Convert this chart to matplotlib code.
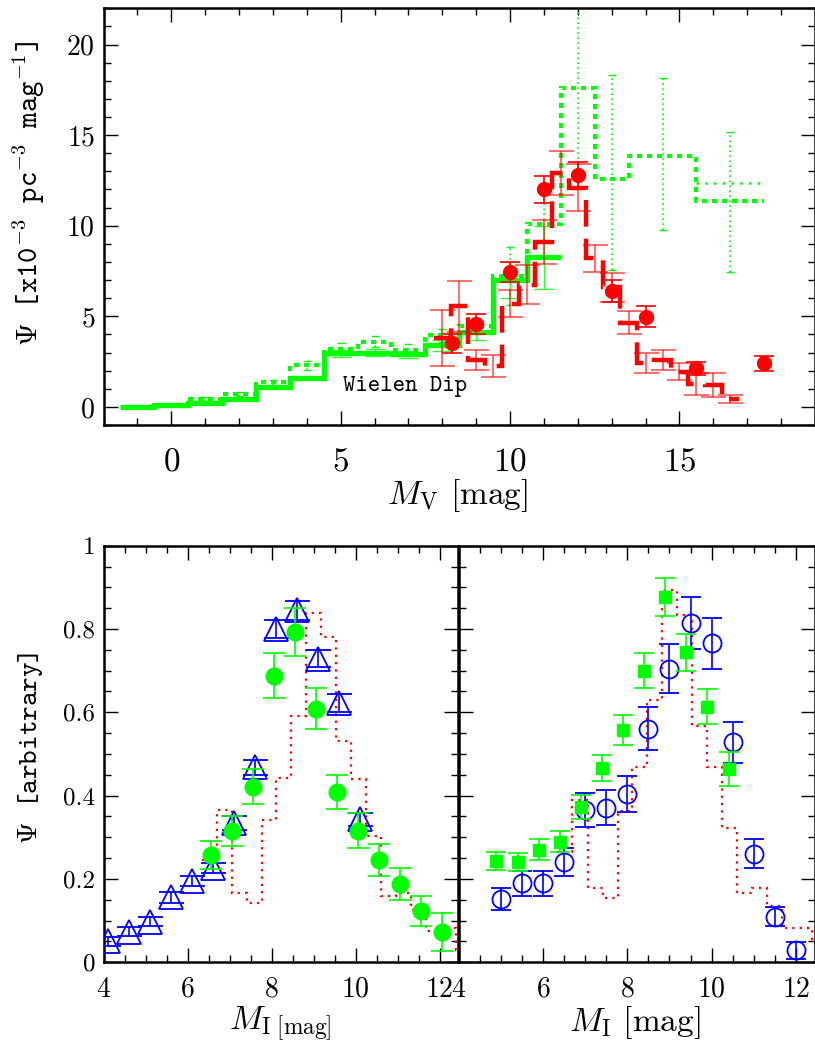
import matplotlib
matplotlib.use("Agg")
import matplotlib.pyplot as plt
from matplotlib.ticker import MultipleLocator, FuncFormatter

plt.rcParams["font.family"] = "cmr10"
plt.rcParams["mathtext.fontset"] = "cm"
plt.rcParams["axes.formatter.use_mathtext"] = True

GREEN = "#00ff00"
RED = "#ff0000"
BLUE = "#0000ff"

# ---- top panel: M_V luminosity functions ----
solid_edges = [-1.5, -0.5, 0.5, 1.5, 2.5, 3.5, 4.5, 5.5, 6.5, 7.5, 8.5, 9.5, 10.5, 11.5]
solid_vals = [0.0, 0.1, 0.22, 0.43, 1.1, 1.57, 2.95, 3.0, 2.9, 3.4, 4.15, 7.0, 8.25]
solid_err_x = [5, 6, 7, 8, 9, 10, 11]
solid_err_y = [2.95, 3.0, 2.9, 3.4, 4.15, 7.0, 8.25]
solid_err = [0.2, 0.2, 0.2, 0.3, 0.45, 1.0, 1.75]

dotted_edges = [0.5, 1.5, 2.5, 3.5, 4.5, 5.5, 6.5, 7.5, 8.5, 9.5, 10.5, 11.5, 12.5, 13.5, 15.5, 17.5]
dotted_vals = [0.45, 0.7, 1.35, 2.3, 3.2, 3.6, 3.15, 3.95, 4.45, 7.2, 10.1, 17.6, 12.6, 13.85, 11.35]
dotted_err_x = [1, 2, 3, 4, 5, 6, 7, 8, 9, 10, 11, 12, 13, 14.5, 16.5]
dotted_err_y = [0.45, 0.7, 1.35, 2.3, 3.2, 3.6, 3.15, 3.95, 4.45, 7.2, 10.1, 17.6, 12.6, 13.85, 11.35]
dotted_err_lo = [0.1, 0.12, 0.15, 0.25, 0.3, 0.3, 0.3, 0.35, 0.45, 1.6, 1.7, 5.6, 5.05, 4.1, 3.9]
dotted_err_hi = [0.1, 0.12, 0.15, 0.25, 0.3, 0.3, 0.3, 0.35, 0.45, 1.6, 1.7, 6.0, 5.7, 4.3, 3.8]
dotted_tail_edges = [15.5, 17.5]
dotted_tail_vals = [12.35]

dashed_edges = [7.75, 8.25, 8.75, 9.25, 9.75, 10.25, 10.75, 11.25, 11.75, 12.25,
                12.75, 13.25, 13.75, 14.25, 14.75, 15.25, 15.75, 16.25, 16.75]
dashed_vals = [3.8, 5.55, 2.58, 2.26, 5.7, 6.75, 9.1, 12.9, 12.1, 8.2,
               6.6, 4.65, 2.4, 2.58, 1.95, 1.25, 1.2, 0.43]
dashed_err_x = [8.0, 8.5, 9.0, 9.5, 10.0, 10.5, 11.0, 11.5, 12.0, 12.5,
                13.0, 13.5, 14.0, 14.5, 15.0, 15.5, 16.0, 16.5]
dashed_err = [1.55, 1.42, 0.55, 0.6, 0.75, 1.06, 1.2, 1.2, 1.3, 0.73,
              0.8, 0.65, 0.55, 0.55, 0.45, 0.6, 0.67, 0.24]

circ_x = [8.3, 9.0, 10.0, 11.0, 12.0, 13.0, 14.0, 15.5, 17.5]
circ_y = [3.5, 4.57, 7.47, 12.02, 12.78, 6.4, 4.98, 2.12, 2.4]
circ_err = [0.5, 0.55, 0.55, 0.75, 0.75, 0.6, 0.57, 0.35, 0.4]

# ---- bottom panels: M_I luminosity functions ----
hist_i_edges = [6.34, 6.7, 7.06, 7.42, 7.77, 8.11, 8.47, 8.83, 9.18, 9.53,
                9.89, 10.25, 10.6, 10.96, 11.32, 11.67, 12.03, 12.39, 12.75]
hist_left = [0.245, 0.366, 0.167, 0.143, 0.342, 0.442, 0.59, 0.838, 0.78,
             0.532, 0.439, 0.303, 0.158, 0.166, 0.126, 0.074, 0.082, 0.03]
hist_right = [0.265, 0.39, 0.178, 0.154, 0.362, 0.468, 0.63, 0.894, 0.834,
              0.566, 0.468, 0.322, 0.167, 0.178, 0.134, 0.082, 0.083, 0.046]

tri_x = [4.1, 4.6, 5.1, 5.6, 6.1, 6.6, 7.1, 7.6, 8.1, 8.6, 9.1, 9.6, 10.1]
tri_y = [0.05, 0.073, 0.097, 0.156, 0.195, 0.226, 0.334, 0.468, 0.80, 0.845, 0.729, 0.622, 0.343]
tri_err = [0.011, 0.011, 0.011, 0.013, 0.013, 0.012, 0.017, 0.018, 0.022, 0.023, 0.021, 0.021, 0.016]

gdot_x = [6.55, 7.05, 7.55, 8.05, 8.55, 9.05, 9.55, 10.05, 10.55, 11.05, 11.55, 12.05]
gdot_y = [0.258, 0.316, 0.421, 0.688, 0.792, 0.609, 0.409, 0.316, 0.245, 0.188, 0.123, 0.073]
gdot_err = [0.033, 0.036, 0.042, 0.054, 0.058, 0.049, 0.041, 0.042, 0.038, 0.038, 0.037, 0.046]

sq_x = [4.9, 5.4, 5.9, 6.4, 6.9, 7.4, 7.9, 8.4, 8.9, 9.4, 9.9, 10.4]
sq_y = [0.243, 0.24, 0.27, 0.289, 0.372, 0.467, 0.558, 0.70, 0.877, 0.744, 0.613, 0.464]
sq_err = [0.022, 0.022, 0.025, 0.025, 0.029, 0.031, 0.036, 0.042, 0.046, 0.044, 0.042, 0.04]

oc_x = [5.0, 5.5, 6.0, 6.5, 7.0, 7.5, 8.0, 8.5, 9.0, 9.5, 10.0, 10.5, 11.0, 11.5, 12.0]
oc_y = [0.152, 0.19, 0.19, 0.241, 0.366, 0.371, 0.404, 0.561, 0.705, 0.815, 0.766, 0.528, 0.261, 0.109, 0.0285]
oc_err = [0.027, 0.03, 0.03, 0.034, 0.041, 0.042, 0.044, 0.052, 0.059, 0.062, 0.061, 0.049, 0.034, 0.023, 0.02]


def style_axes(ax, xmaj, xmin, ymaj, ymin, xsize, ysize, xpad):
    ax.xaxis.set_major_locator(MultipleLocator(xmaj))
    ax.xaxis.set_minor_locator(MultipleLocator(xmin))
    ax.yaxis.set_major_locator(MultipleLocator(ymaj))
    ax.yaxis.set_minor_locator(MultipleLocator(ymin))
    ax.tick_params(which="both", direction="in", top=True, right=True, width=1.0)
    ax.tick_params(which="major", length=10)
    ax.tick_params(which="minor", length=5)
    ax.tick_params(axis="x", labelsize=xsize, pad=xpad)
    ax.tick_params(axis="y", labelsize=ysize, pad=6)
    for sp in ax.spines.values():
        sp.set_linewidth(1.8)


fig = plt.figure(figsize=(8.15, 10.51), dpi=100)

# ---- top ----
ax = fig.add_axes([0.127, 0.5956, 0.873, 0.3965])
ax.stairs(dotted_vals, dotted_edges, baseline=None, color=GREEN, lw=3.0,
          linestyle=(0, (1.2, 1.2)), zorder=2)
ax.stairs(dotted_tail_vals, dotted_tail_edges, baseline=None, color=GREEN, lw=1.8,
          linestyle=(0, (1, 2.5)), zorder=2)
eb = ax.errorbar(dotted_err_x, dotted_err_y, yerr=[dotted_err_lo, dotted_err_hi], fmt="none",
                 ecolor=GREEN, elinewidth=1.2, capsize=3, capthick=1.0, zorder=2)
eb[2][0].set_linestyle((0, (1, 2)))
ax.stairs(solid_vals, solid_edges, baseline=None, color=GREEN, lw=3.8, zorder=3)
ax.errorbar(solid_err_x, solid_err_y, yerr=solid_err, fmt="none", ecolor=GREEN,
            elinewidth=1.0, capsize=7, capthick=1.0, alpha=0.8, zorder=3)
ax.errorbar(dashed_err_x, dashed_vals, yerr=dashed_err, fmt="none", ecolor=RED,
            elinewidth=1.5, capsize=9, capthick=1.5, alpha=0.55, zorder=4)
ax.stairs(dashed_vals, dashed_edges, baseline=None, color=RED, lw=3.2,
          linestyle=(0, (6, 2.7)), zorder=4)
ax.errorbar(circ_x, circ_y, yerr=circ_err, fmt="o", color=RED, ms=10, mec=RED,
            elinewidth=1.2, capsize=7, capthick=1.2, zorder=5)
ax.text(6.9, 1.15, "Wielen Dip", family="cmtt10", fontsize=17, ha="center", va="center")
ax.set_xlim(-2, 19)
ax.set_ylim(-1, 22)
style_axes(ax, 5, 1, 5, 1, 24, 20, 16)
ax.set_xlabel(r"$M_{\mathrm{V}}$ [mag]", fontsize=24)
ax.xaxis.set_label_coords(0.498, -0.125)
ax.set_ylabel(r"$\Psi$ [x10$^{-3}$ pc$^{-3}$ mag$^{-1}$]", family="cmtt10", fontsize=21)
ax.yaxis.set_label_coords(-0.08, 0.555)

fmt = FuncFormatter(lambda v, p: "%g" % v)

# ---- bottom left ----
axl = fig.add_axes([0.1272, 0.0844, 0.4353, 0.3964])
axl.stairs(hist_left, hist_i_edges, baseline=None, color=RED, lw=1.6,
           linestyle=(0, (1, 2.3)), zorder=2)
axl.errorbar(tri_x, tri_y, yerr=tri_err, fmt="^", color=BLUE, mfc="none", mec=BLUE,
             ms=17, mew=1.3, elinewidth=1.2, capsize=9, capthick=1.2, zorder=3)
axl.errorbar(gdot_x, gdot_y, yerr=gdot_err, fmt="o", color=GREEN, mec=GREEN, ms=12,
             elinewidth=1.2, capsize=8, capthick=1.2, zorder=4)
axl.set_xlim(4, 12.45)
axl.set_ylim(0, 1)
style_axes(axl, 2, 0.5, 0.2, 0.05, 20, 18, 10)
axl.yaxis.set_major_formatter(fmt)
axl.set_xlabel(r"$M_{\mathrm{I\ [mag]}}$", fontsize=24)
axl.xaxis.set_label_coords(0.497, -0.1)
axl.set_ylabel(r"$\Psi$ [arbitrary]", family="cmtt10", fontsize=20)
axl.yaxis.set_label_coords(-0.165, 0.514)

# ---- bottom right ----
axr = fig.add_axes([0.5626, 0.0844, 0.4374, 0.3964])
axr.stairs(hist_right, hist_i_edges, baseline=None, color=RED, lw=1.6,
           linestyle=(0, (1, 2.3)), zorder=2)
axr.errorbar(oc_x, oc_y, yerr=oc_err, fmt="o", color=BLUE, mfc="none", mec=BLUE,
             ms=13, mew=1.3, elinewidth=1.2, capsize=7, capthick=1.2, zorder=3)
axr.errorbar(sq_x, sq_y, yerr=sq_err, fmt="s", color=GREEN, mec=GREEN, ms=9,
             elinewidth=1.2, capsize=7, capthick=1.2, zorder=4)
axr.set_xlim(4, 12.45)
axr.set_ylim(0, 1)
style_axes(axr, 2, 0.5, 0.2, 0.05, 20, 18, 10)
axr.tick_params(axis="y", labelleft=False)
axr.set_xlabel(r"$M_{\mathrm{I}}$ [mag]", fontsize=24)
axr.xaxis.set_label_coords(0.495, -0.1)

fig.savefig("out.png", dpi=100)
